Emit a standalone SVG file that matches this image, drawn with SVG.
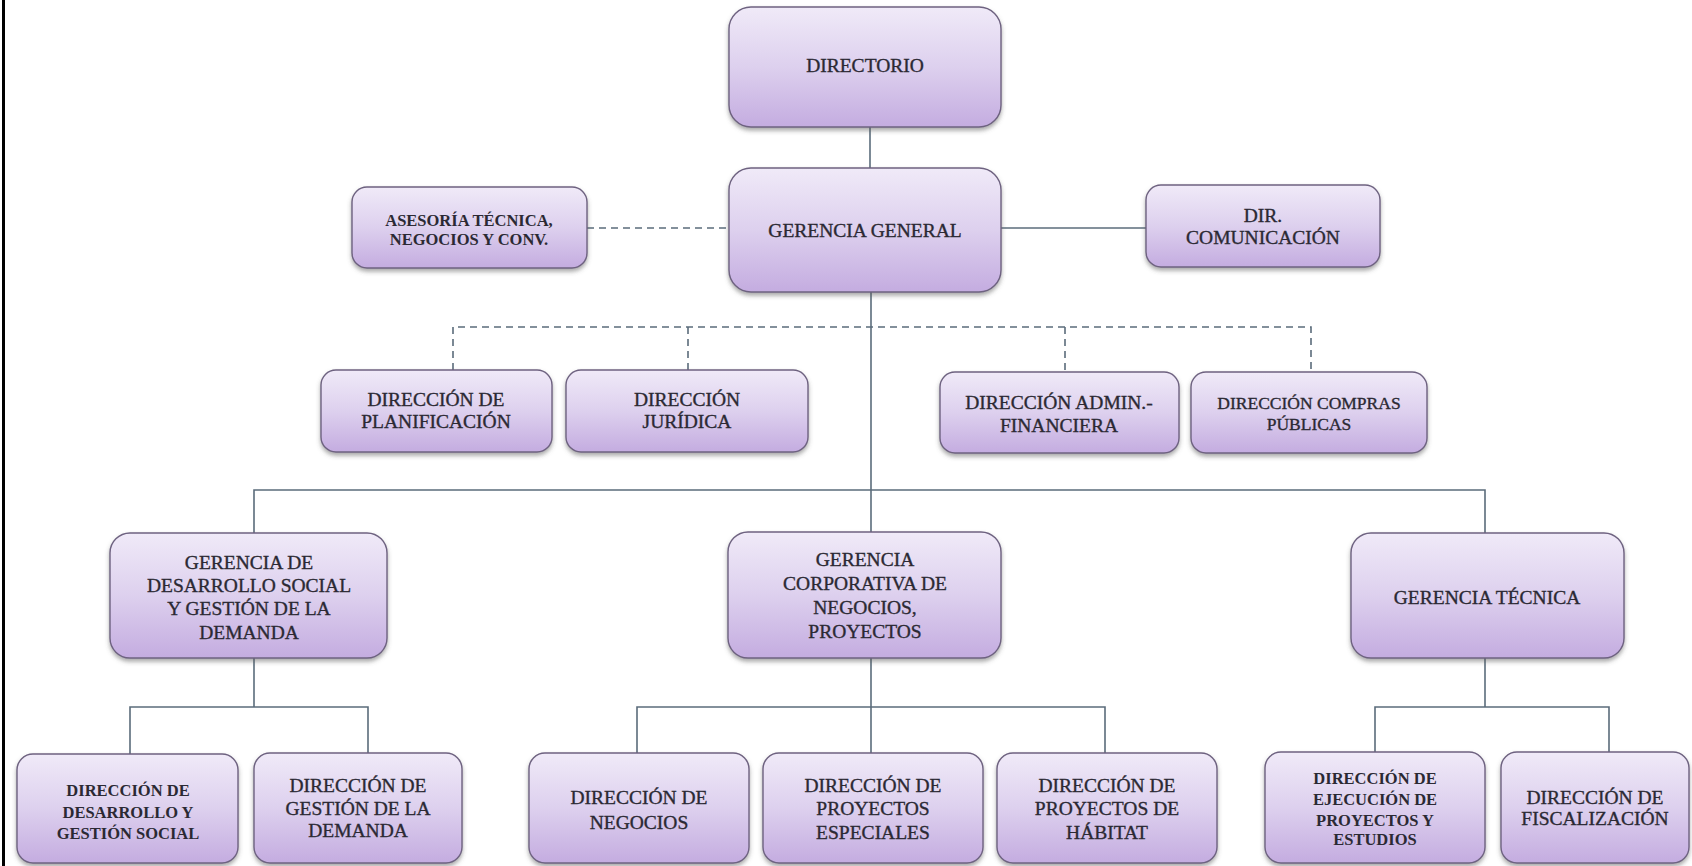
<svg xmlns="http://www.w3.org/2000/svg" width="1692" height="866" viewBox="0 0 1692 866">
<defs>
<linearGradient id="g" x1="0" y1="0" x2="0" y2="1">
<stop offset="0" stop-color="#f0eaf8"/>
<stop offset="0.5" stop-color="#ddd0ee"/>
<stop offset="1" stop-color="#c4ace0"/>
</linearGradient>
<filter id="sh" x="-10%" y="-10%" width="120%" height="130%">
<feDropShadow dx="0" dy="3" stdDeviation="2" flood-color="#555" flood-opacity="0.5"/>
</filter>
<style>
.box{fill:url(#g);stroke:#6e6280;stroke-width:1.4;filter:url(#sh)}
.t{font-family:"Liberation Serif","Times New Roman",serif;font-size:19.5px;fill:#2b2933;stroke:#2b2933;stroke-width:0.35;text-anchor:middle}
.s{font-size:17.5px}
.b{font-size:16.5px;font-weight:bold;stroke-width:0}
.ln{stroke:#5b6c7b;stroke-width:1.6;fill:none}
.dash{stroke-dasharray:7 5}
</style>
</defs>
<rect x="2" y="0" width="3" height="866" fill="#000"/>
<g id="connectors">
<line class="ln" x1="870" y1="127" x2="870" y2="168"/>
<line class="ln dash" x1="587" y1="228" x2="729" y2="228"/>
<line class="ln" x1="1001" y1="228" x2="1146" y2="228"/>
<line class="ln" x1="871" y1="292" x2="871" y2="532"/>
<polyline class="ln dash" points="453,370 453,327 1311,327 1311,372"/>
<line class="ln dash" x1="688" y1="327" x2="688" y2="370"/>
<line class="ln dash" x1="1065" y1="327" x2="1065" y2="372"/>
<polyline class="ln" points="254,533 254,490 1485,490 1485,533"/>
<line class="ln" x1="254" y1="658" x2="254" y2="707"/>
<polyline class="ln" points="130,754 130,707 368,707 368,753"/>
<line class="ln" x1="871" y1="658" x2="871" y2="753"/>
<polyline class="ln" points="637,753 637,707 1105,707 1105,753"/>
<line class="ln" x1="1485" y1="658" x2="1485" y2="707"/>
<polyline class="ln" points="1375,752 1375,707 1609,707 1609,752"/>
</g>
<g id="directorio"><rect class="box" x="729" y="7" width="272" height="120" rx="22"/><text class="t" x="865" y="72">DIRECTORIO</text></g>
<g id="gerencia-general"><rect class="box" x="729" y="168" width="272" height="124" rx="22"/><text class="t" x="865" y="237">GERENCIA  GENERAL</text></g>
<g id="asesoria"><rect class="box" x="352" y="187" width="235" height="81" rx="15"/><text class="t b" x="469" y="226">ASESORÍA TÉCNICA,</text><text class="t b" x="469" y="245">NEGOCIOS Y CONV.</text></g>
<g id="dir-comunicacion"><rect class="box" x="1146" y="185" width="234" height="82" rx="15"/><text class="t" x="1263" y="222">DIR.</text><text class="t" x="1263" y="244">COMUNICACIÓN</text></g>
<g id="dir-planificacion"><rect class="box" x="321" y="370" width="231" height="82" rx="15"/><text class="t" x="436" y="406">DIRECCIÓN DE</text><text class="t" x="436" y="428">PLANIFICACIÓN</text></g>
<g id="dir-juridica"><rect class="box" x="566" y="370" width="242" height="82" rx="15"/><text class="t" x="687" y="406">DIRECCIÓN</text><text class="t" x="687" y="428">JURÍDICA</text></g>
<g id="dir-admin"><rect class="box" x="940" y="372" width="239" height="81" rx="15"/><text class="t" x="1059" y="409">DIRECCIÓN ADMIN.-</text><text class="t" x="1059" y="432">FINANCIERA</text></g>
<g id="dir-compras"><rect class="box" x="1191" y="372" width="236" height="81" rx="15"/><text class="t s" x="1309" y="409">DIRECCIÓN COMPRAS</text><text class="t s" x="1309" y="430">PÚBLICAS</text></g>
<g id="gerencia-desarrollo"><rect class="box" x="110" y="533" width="277" height="125" rx="20"/><text class="t" x="249" y="569">GERENCIA DE</text><text class="t" x="249" y="592">DESARROLLO SOCIAL</text><text class="t" x="249" y="615">Y GESTIÓN DE LA</text><text class="t" x="249" y="639">DEMANDA</text></g>
<g id="gerencia-corporativa"><rect class="box" x="728" y="532" width="273" height="126" rx="20"/><text class="t" x="865" y="566">GERENCIA</text><text class="t" x="865" y="590">CORPORATIVA DE</text><text class="t" x="865" y="614">NEGOCIOS,</text><text class="t" x="865" y="638">PROYECTOS</text></g>
<g id="gerencia-tecnica"><rect class="box" x="1351" y="533" width="273" height="125" rx="20"/><text class="t" x="1487" y="604">GERENCIA TÉCNICA</text></g>
<g id="dir-desarrollo-gestion-social"><rect class="box" x="17" y="754" width="221" height="109" rx="16"/><text class="t b" x="128" y="796">DIRECCIÓN DE</text><text class="t b" x="128" y="818">DESARROLLO Y</text><text class="t b" x="128" y="839">GESTIÓN SOCIAL</text></g>
<g id="dir-gestion-demanda"><rect class="box" x="254" y="753" width="208" height="110" rx="16"/><text class="t" x="358" y="792">DIRECCIÓN DE</text><text class="t" x="358" y="815">GESTIÓN DE LA</text><text class="t" x="358" y="837">DEMANDA</text></g>
<g id="dir-negocios"><rect class="box" x="529" y="753" width="220" height="110" rx="16"/><text class="t" x="639" y="804">DIRECCIÓN DE</text><text class="t" x="639" y="829">NEGOCIOS</text></g>
<g id="dir-proyectos-especiales"><rect class="box" x="763" y="753" width="220" height="110" rx="16"/><text class="t" x="873" y="792">DIRECCIÓN DE</text><text class="t" x="873" y="815">PROYECTOS</text><text class="t" x="873" y="839">ESPECIALES</text></g>
<g id="dir-proyectos-habitat"><rect class="box" x="997" y="753" width="220" height="110" rx="16"/><text class="t" x="1107" y="792">DIRECCIÓN DE</text><text class="t" x="1107" y="815">PROYECTOS DE</text><text class="t" x="1107" y="839">HÁBITAT</text></g>
<g id="dir-ejecucion"><rect class="box" x="1265" y="752" width="220" height="111" rx="16"/><text class="t b" x="1375" y="784">DIRECCIÓN DE</text><text class="t b" x="1375" y="805">EJECUCIÓN DE</text><text class="t b" x="1375" y="826">PROYECTOS Y</text><text class="t b" x="1375" y="845">ESTUDIOS</text></g>
<g id="dir-fiscalizacion"><rect class="box" x="1501" y="752" width="188" height="111" rx="16"/><text class="t" x="1595" y="804">DIRECCIÓN DE</text><text class="t" x="1595" y="825">FISCALIZACIÓN</text></g>
</svg>
